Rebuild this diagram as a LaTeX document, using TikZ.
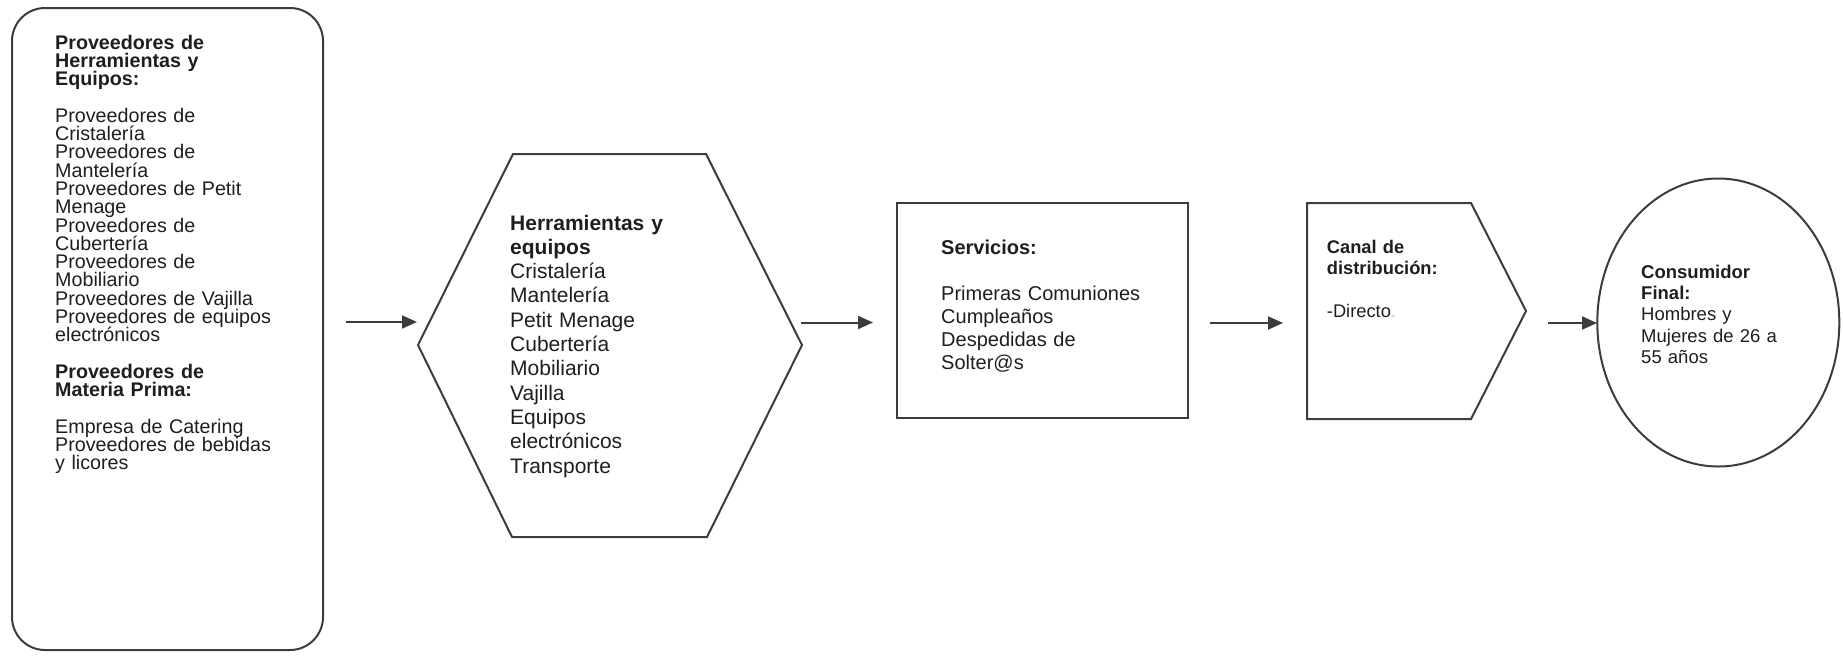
\documentclass[tikz,border=0pt]{standalone}
\usepackage{fontspec}
\setmainfont{Liberation Sans}
\usetikzlibrary{arrows.meta,shapes.geometric}
\definecolor{ink}{HTML}{1E1E1E}
\definecolor{edge}{HTML}{3C3C3C}
% font size and fixed line pitch, never widened by \lineskip
\newcommand\txtsize[2]{\fontsize{#1}{#2}\selectfont\lineskiplimit=-100pt\relax}
\tikzset{
  outline/.style={draw=edge, line width=2pt, line join=miter},
  flow/.style={draw=edge, line width=2pt, -{Triangle[length=15pt,width=13pt]}},
  txt/.style={anchor=base west, inner sep=0pt, text=ink, align=left, text width=#1},
}
\begin{document}
\begin{tikzpicture}[x=1pt,y=-1pt]
\useasboundingbox (0,0) rectangle (1843,656);

% suppliers
\draw[outline, rounded corners=33pt] (12,8) rectangle (323,650);
\node[txt=262pt, font=\txtsize{19.7pt}{18.3pt}] (suppliers) at (55,49)
  {\textbf{Proveedores de}\\ \textbf{Herramientas y}\\ \textbf{Equipos:}\\[18.3pt]
   Proveedores de\\ Cristalería\\ Proveedores de\\ Mantelería\\
   Proveedores de Petit\\ Menage\\ Proveedores de\\ Cubertería\\
   Proveedores de\\ Mobiliario\\ Proveedores de Vajilla\\
   Proveedores de equipos\\ electrónicos\\[18.3pt]
   \textbf{Proveedores de}\\ \textbf{Materia Prima:}\\[18.3pt]
   Empresa de Catering\\ Proveedores de bebidas\\ y licores};

% tools and equipment
\draw[outline] (418,345) -- (513,154) -- (706,154) -- (802,345)
  -- (707,537) -- (512,537) -- cycle;
\node[txt=280pt, font=\txtsize{21pt}{24.3pt}] (tools) at (510,230)
  {\textbf{Herramientas y}\\ \textbf{equipos}\\ Cristalería\\ Mantelería\\
   Petit Menage\\ Cubertería\\ Mobiliario\\ Vajilla\\ Equipos\\
   electrónicos\\ Transporte};

% services
\draw[outline] (897,203) rectangle (1188,418);
\node[txt=240pt, font=\txtsize{20pt}{23pt}] (services) at (941,254.3)
  {\textbf{Servicios:}\\[23pt]
   Primeras Comuniones\\ Cumpleaños\\ Despedidas de\\ Solter@s};

% distribution channel
\draw[outline] (1307,203) -- (1471,203) -- (1526,311) -- (1471,419)
  -- (1307,419) -- cycle;
\node[txt=180pt, font=\txtsize{18.3pt}{21.3pt}] (channel) at (1326.7,253.3)
  {\textbf{Canal de}\\ \textbf{distribución:}\\[21.3pt]
   -Directo\textcolor{black!25}{.}};

% final consumer
\node[draw=edge, line width=2pt, ellipse, minimum width=242pt,
  minimum height=288pt, inner sep=0pt] (consumer) at (1718.3,322.5) {};
\node[txt=190pt, font=\txtsize{18.5pt}{21.25pt}] (consumerText) at (1641,278.3)
  {\textbf{Consumidor}\\ \textbf{Final:}\\ Hombres y\\ Mujeres de 26 a\\ 55 años};

% flow arrows
\coordinate (a1s) at (346,322);   \coordinate (a1e) at (417,322);
\coordinate (a2s) at (801,322.5); \coordinate (a2e) at (873,322.5);
\coordinate (a3s) at (1210,323);  \coordinate (a3e) at (1283,323);
\coordinate (a4s) at (1548,323);  \coordinate (a4e) at (1597,323);
\draw[flow] (a1s) -- (a1e);
\draw[flow] (a2s) -- (a2e);
\draw[flow] (a3s) -- (a3e);
\draw[flow] (a4s) -- (a4e);
\end{tikzpicture}
\end{document}
